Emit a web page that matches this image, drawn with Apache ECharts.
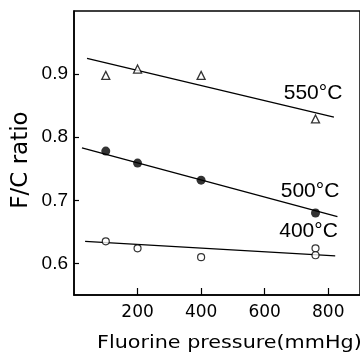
<!DOCTYPE html>
<html>
<head>
<meta charset="utf-8">
<script src="https://cdn.jsdelivr.net/npm/echarts@6/dist/echarts.min.js"></script>
<style>html,body{margin:0;padding:0;background:#fff;}#c{width:360px;height:354px;}</style>
</head>
<body>
<div id="c"></div>
<script>
// Data
const xTicks = [200, 400, 600, 800];
const yTicks = [0.6, 0.7, 0.8, 0.9];

const pts550 = [[100, 0.898], [200, 0.908], [400, 0.898], [760, 0.829]];
const pts500 = [[100, 0.778], [200, 0.759], [400, 0.732], [760, 0.680]];
const pts400 = [[100, 0.635], [200, 0.624], [400, 0.610], [760, 0.624], [760, 0.613]];

const fit550 = [[41, 0.925], [818, 0.832]];
const fit500 = [[25, 0.783], [829, 0.674]];
const fit400 = [[35, 0.635], [822, 0.612]];

const labels = ['550°C', '500°C', '400°C'];
const xTitle = 'Fluorine pressure(mmHg)';
const yTitle = 'F/C ratio';

const chart = echarts.init(document.getElementById('c'), null, {renderer: 'canvas'});
const fitStyle = {color: '#000', width: 1.3};
function fitSeries(d) {
  return {type: 'line', data: d, showSymbol: false, symbol: 'none', lineStyle: fitStyle, silent: true, z: 2};
}
chart.setOption({
  animation: false,
  backgroundColor: '#fff',
  grid: {left: 74, right: -1, top: 11, bottom: 59, show: true, borderColor: '#000', borderWidth: 1.5, backgroundColor: 'transparent'},
  xAxis: {
    type: 'value', min: 0, max: 900,
    axisLine: {show: true, lineStyle: {color: '#000', width: 1.5}},
    axisTick: {show: true, inside: true, length: 7, customValues: xTicks, lineStyle: {color: '#000', width: 1.2}},
    axisLabel: {customValues: xTicks, margin: 9, color: '#000', fontFamily: 'DejaVu Sans', fontSize: 17},
    splitLine: {show: false}
  },
  yAxis: {
    type: 'value', min: 0.55, max: 1.0,
    axisLine: {show: true, lineStyle: {color: '#000', width: 1.5}},
    axisTick: {show: true, inside: true, length: 5, customValues: yTicks, lineStyle: {color: '#000', width: 1.2}},
    axisLabel: {customValues: yTicks, margin: 6, color: '#000', fontFamily: 'Liberation Sans', fontSize: 19,
      formatter: v => v.toFixed(1)},
    splitLine: {show: false}
  },
  series: [
    fitSeries(fit550), fitSeries(fit500), fitSeries(fit400),
    {type: 'scatter', data: pts550, symbol: 'triangle', symbolSize: 8,
     itemStyle: {color: '#fff', borderColor: '#000', borderWidth: 1.3}, z: 3},
    {type: 'scatter', data: pts500, symbol: 'circle', symbolSize: 9,
     itemStyle: {color: '#000', borderColor: '#000', borderWidth: 0}, z: 3},
    {type: 'scatter', data: pts400, symbol: 'circle', symbolSize: 7,
     itemStyle: {color: '#fff', borderColor: '#000', borderWidth: 1.2}, z: 3}
  ],
  graphic: [
    {type: 'text', x: 313, y: 93, style: {text: labels[0], font: '21px "Liberation Sans"', fill: '#000', textAlign: 'center', textVerticalAlign: 'middle'}},
    {type: 'text', x: 310, y: 191, style: {text: labels[1], font: '21px "Liberation Sans"', fill: '#000', textAlign: 'center', textVerticalAlign: 'middle'}},
    {type: 'text', x: 308.5, y: 231, style: {text: labels[2], font: '21px "Liberation Sans"', fill: '#000', textAlign: 'center', textVerticalAlign: 'middle'}},
    {type: 'text', x: 97, y: 343, scaleX: 1.15, style: {text: xTitle, font: '18px "DejaVu Sans"', fill: '#000', textAlign: 'left', textVerticalAlign: 'middle'}},
    {type: 'text', x: 21, y: 160, rotation: Math.PI / 2, style: {text: yTitle, font: '23px "DejaVu Sans"', fill: '#000', textAlign: 'center', textVerticalAlign: 'middle'}}
  ]
});
</script>
</body>
</html>
